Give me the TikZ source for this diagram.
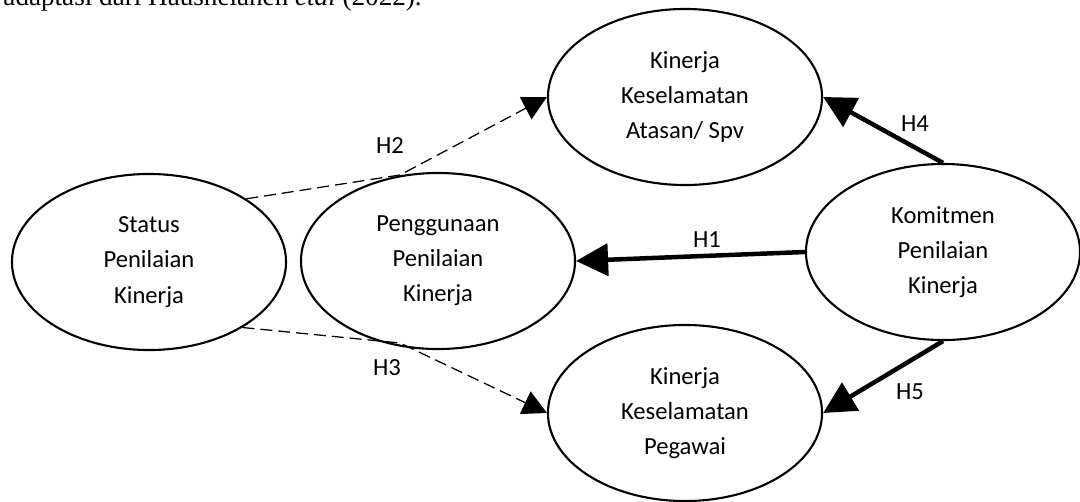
\documentclass[tikz,border=0pt]{standalone}
\usepackage{fontspec}
\setmainfont{Carlito}
\newfontfamily\SrcFont{Liberation Serif}
\usepackage{tikz}
\usetikzlibrary{shapes}
\usetikzlibrary{arrows.meta}
\tikzstyle{Node}=[ellipse,draw=black,line width=1.5pt,minimum width=6.85cm,
minimum height=4.4cm,inner sep=0pt,align=center,font=\fontsize{17.5}{25}\selectfont]
\tikzstyle{Edge}=[draw=black,line width=3.2pt,-{Triangle[length=8mm,width=8mm]}]
\tikzstyle{EdgeD}=[draw=black,line width=0.9pt,dash pattern=on 8.5pt off 4.25pt,
-{Triangle[length=6mm,width=6.2mm]}]
\tikzstyle{NodeH}=[font=\fontsize{17.5}{25}\selectfont,inner sep=0pt]

\begin{document}
\begin{tikzpicture}[x=0.025cm,y=-0.025cm]
        \useasboundingbox(0,0)rectangle(1080,501);
        \node[anchor=base east,inner sep=0pt,font=\SrcFont\fontsize{19.3}{23}\selectfont](src)at(422,5){adaptasi dari Haushelanen \textit{etal} (2022).};
        \node[Node](status)at(149,262){Status\\Penilaian\\Kinerja};
        \node[Node](guna)at(438,261){Penggunaan\\Penilaian\\Kinerja};
        \node[Node](atasan)at(685,97){Kinerja\\Keselamatan\\Atasan/ Spv};
        \node[Node](pegawai)at(685,413){Kinerja\\Keselamatan\\Pegawai};
        \node[Node](komit)at(943,252){Komitmen\\Penilaian\\Kinerja};
        \coordinate(k2)at(400,175);
        \coordinate(k3)at(400,343);
        \draw[EdgeD](status.33)--(k2)--(atasan.west);
        \draw[EdgeD](status.-35)--(k3)--(pegawai.west);
        \draw[Edge](komit.west)--(guna.east);
        \draw[Edge](komit.north)--(atasan.east);
        \draw[Edge](komit.south)--(pegawai.east);
        \node[NodeH](h1)at(707,240){H1};
        \node[NodeH](h2)at(390,146){H2};
        \node[NodeH](h3)at(387,368){H3};
        \node[NodeH](h4)at(915,124){H4};
        \node[NodeH](h5)at(910,392){H5};
    \end{tikzpicture}
\end{document}
